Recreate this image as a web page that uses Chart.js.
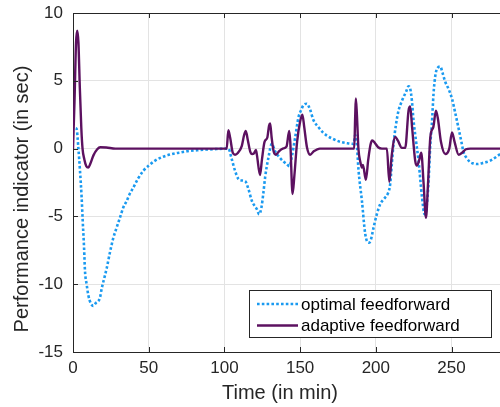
<!DOCTYPE html>
<html>
<head>
<meta charset="utf-8">
<script src="https://cdn.jsdelivr.net/npm/chart.js@4"></script>
<style>
  html, body { margin: 0; padding: 0; background: #fff; }
  #wrap { width: 500px; height: 407px; }
</style>
</head>
<body>
<div id="wrap"><canvas id="perf_chart"></canvas></div>
<script>
// values
const opt_t = [1.8, 2.4, 3.5, 4.6, 5.7, 6.4, 7.3, 7.9, 9, 10.1, 11.7, 13.4, 15, 17.8, 19, 21, 22.3, 24.5, 26.6, 28.9, 31, 33.2, 35.5, 37.2, 39.9, 43, 46.5, 50, 54.2, 59, 64.1, 70, 75.1, 82, 88.4, 95, 102.6,
  104.8, 107, 109.3, 111.5, 113.7, 115.9, 118.1, 121.4, 123, 124.5, 125.8, 126.9, 129.1, 131.3, 133.5, 136.8, 139, 141.2, 143, 144.5, 146.7, 148.9, 150.5, 152.2, 154.4, 156.5, 158.8, 162, 165, 167.7, 171, 176.5, 181, 185.3,
  186.4, 187.3, 188.6, 190.8, 193, 195.2, 196.5, 198.5, 200.5, 202.9, 206.2, 208, 209.5, 210.5, 211.7, 213.2, 215, 216.8, 218.3, 220, 221.6, 222.5, 223.8, 224.9, 226.5, 228.2, 230.5, 232.2, 233.5, 234.8, 236, 237, 238.1, 239.3, 240.3, 242.6, 244, 245.9, 248, 250.3, 252.5, 254.7, 256.5, 258, 260, 262.4, 264.5, 266.8, 271, 275.6, 282.2];
const opt_y = [1.5, 1.45, 0.1, -1.6, -3.6, -5.3, -7.3, -9, -10, -10.8, -11.4, -11.6, -11.4, -11, -10.3, -9.4, -8.8, -7.6, -6.6, -5.8, -5.1, -4.35, -3.85, -3.4, -2.87, -2.2, -1.63, -1.25, -0.89, -0.62, -0.44, -0.3, -0.2, -0.12, -0.07, -0.03, 0,
  -0.76, -1.63, -2.25, -2.35, -2.4, -3.0, -3.85, -4.47, -4.84, -4.3, -3.2, -2.1, -0.64, 0.35, -0.2, -0.7, -0.95, -1.15, -1.3, -0.6, 0.8, 2.3, 2.8, 3.2, 3.31, 2.9, 2.1, 1.6, 1.2, 0.96, 0.75, 0.5, 0.4, 0.35,
  1.0, 0.5, -1.63, -3.85, -6.3, -6.94, -6.8, -5.83, -4.9, -4.1, -3.6, -3.3, -2.6, -1.2, 0.35, 1.7, 2.81, 3.4, 3.8, 4.2, 4.6, 4.5, 3.55, 2.07, 0.6, -0.89, -3.6, -4.84, -4.3, -2.5, 0.35, 1.8, 4.05, 5.4, 5.85, 6.05, 5.6, 4.91, 4.4, 3.68, 2.6, 1.46, 0.5, -0.27, -0.7, -1.01, -1.1, -1.14, -1.05, -0.89, -0.4];

const ada_t = [0, 1, 2, 2.8, 3.6, 4.5, 5.5, 6.3, 7.5, 8.8, 10.1, 11.5, 13.5, 16, 18, 22, 28, 101.5,
  102.6, 103.8, 105.5, 107, 109, 111.5, 113, 114.1, 115.5, 117, 118.3, 119.5, 120.8, 121.5, 123.5, 124.8, 126.5, 128.3, 129.5, 130.2, 131.2, 132.5, 134, 136, 138.5, 141, 142.8, 143.5, 145, 146.2, 148, 150, 151.5, 152.7, 154.5, 156.6, 159, 163, 185.7,
  186.4, 186.8, 187.5, 188.5, 189.8, 190.8, 191.5, 193.4, 195, 196.5, 197.6, 199.5, 201.5, 204, 207.3, 208.9, 210.5, 212.8, 214.5, 217.2, 219.4, 221.6, 222.7, 224, 226, 227.1, 228.5, 230, 231.5, 233.1, 234.5, 236, 238, 239.7, 241, 243, 245.9, 248.5, 250.3, 252, 254.7, 257, 259.5, 262.4, 282];
const ada_y = [0, 3.5, 7.8, 8.7, 7.8, 4.5, 1.5, 0, -0.8, -1.3, -1.4, -1.1, -0.5, -0.05, 0.1, 0.08, 0, 0,
  1.35, 0.8, -0.3, -0.45, -0.3, 0.2, 1.0, 1.3, 0.6, -0.2, -0.4, -0.35, -0.1, -0.5, -1.95, -0.8, 0.5, 0.8, 1.7, 1.85, 0.8, -0.2, -0.45, -0.2, 0, 0.15, 1.3, 0.5, -3.35, -2.0, 0.5, 2.0, 2.5, 1.6, 0.1, -0.45, -0.2, 0, 0,
  2.5, 3.7, 2.5, 0, -1.0, -1.4, -1.2, -2.3, -0.8, 0.3, 0.6, 0.4, 0.1, 0, 0, -2.45, -0.5, 0.85, 0.6, 0.05, 0.05, 2.8, 3.1, 1.5, -0.9, -1.25, -0.9, -0.3, -2.5, -5.1, -2.5, 0.85, 1.6, 2.8, 2.2, 0.5, -0.4, 0, 1.2, 0.5, -0.45, -0.3, -0.05, 0, 0];

const x_ticks = [0, 50, 100, 150, 200, 250];
const y_ticks = [-15, -10, -5, 0, 5, 10];
const series_names = ["optimal feedforward", "adaptive feedforward"];

const axis_col = "#262626";
const font_face = "'Liberation Sans', Arial, sans-serif";

const to_points = (ts, ys) => ts.map((t, i) => ({ x: t, y: ys[i] }));

// box top line, inward ticks, axis titles and the legend box
const frame = {
  id: "frame",
  afterDraw(chart) {
    const { ctx, chartArea: a, scales } = chart;
    ctx.save();
    ctx.strokeStyle = axis_col;
    ctx.lineWidth = 1;
    ctx.beginPath();
    ctx.moveTo(a.left, a.top + 0.5);
    ctx.lineTo(a.right, a.top + 0.5);
    x_ticks.forEach((v) => {
      const px = Math.round(scales.x.getPixelForValue(v)) + 0.5;
      ctx.moveTo(px, a.bottom);
      ctx.lineTo(px, a.bottom - 5);
      ctx.moveTo(px, a.top);
      ctx.lineTo(px, a.top + 5);
    });
    y_ticks.forEach((v) => {
      const py = Math.round(scales.y.getPixelForValue(v)) + 0.5;
      ctx.moveTo(a.left, py);
      ctx.lineTo(a.left + 5, py);
    });
    ctx.stroke();

    ctx.fillStyle = axis_col;
    ctx.font = "20px " + font_face;
    ctx.textAlign = "center";
    ctx.textBaseline = "middle";
    ctx.fillText("Time (in min)", 280, 393);
    ctx.translate(22, 199);
    ctx.rotate(-Math.PI / 2);
    ctx.fillText("Performance indicator (in sec)", 0, 0);
    ctx.restore();

    // legend
    ctx.save();
    ctx.fillStyle = "#fff";
    ctx.fillRect(249.5, 290.5, 242, 47);
    ctx.strokeStyle = axis_col;
    ctx.lineWidth = 1;
    ctx.strokeRect(249.5, 290.5, 242, 47);
    const rows = [304, 325.5];
    chart.data.datasets.forEach((ds, i) => {
      ctx.beginPath();
      ctx.strokeStyle = ds.borderColor;
      ctx.lineWidth = ds.borderWidth;
      ctx.setLineDash(ds.borderDash || []);
      ctx.moveTo(257, rows[i]);
      ctx.lineTo(298, rows[i]);
      ctx.stroke();
      ctx.setLineDash([]);
      ctx.fillStyle = "#000";
      ctx.font = "17px " + font_face;
      ctx.textAlign = "left";
      ctx.textBaseline = "middle";
      ctx.fillText(ds.label, 301, rows[i] + 1);
    });
    ctx.restore();
  },
};

const pc = new Chart(document.getElementById("perf_chart"), {
  type: "line",
  data: {
    datasets: [
      {
        label: series_names[0],
        data: to_points(opt_t, opt_y),
        borderColor: "#1a9af0",
        borderWidth: 2.6,
        borderDash: [2.6, 2.2],
        borderCapStyle: "butt",
        pointRadius: 0,
        cubicInterpolationMode: "monotone",
        order: 2,
      },
      {
        label: series_names[1],
        data: to_points(ada_t, ada_y),
        borderColor: "#5c1160",
        borderWidth: 2.4,
        pointRadius: 0,
        cubicInterpolationMode: "monotone",
        order: 1,
      },
    ],
  },
  options: {
    responsive: true,
    maintainAspectRatio: false,
    animation: false,
    layout: { padding: { top: 13, right: 0, left: 0, bottom: 0 } },
    plugins: {
      legend: { display: false },
      tooltip: { enabled: false },
    },
    scales: {
      x: {
        type: "linear",
        min: 0,
        max: 282,
        afterFit: (s) => { s.height = 55; s.paddingLeft = 0; s.paddingRight = 0; },
        afterBuildTicks: (s) => { s.ticks = x_ticks.map((v) => ({ value: v })); },
        ticks: { color: axis_col, font: { size: 17, family: font_face }, padding: 6, maxRotation: 0 },
        grid: { color: "#e3e3e3", drawTicks: false },
        border: { color: axis_col, width: 1 },
      },
      y: {
        min: -15,
        max: 10,
        afterFit: (s) => { s.width = 73; s.paddingTop = 0; s.paddingBottom = 0; },
        afterBuildTicks: (s) => { s.ticks = y_ticks.map((v) => ({ value: v })); },
        ticks: { color: axis_col, font: { size: 17, family: font_face }, padding: 10 },
        grid: { color: "#e3e3e3", drawTicks: false },
        border: { color: axis_col, width: 1 },
      },
    },
  },
  plugins: [frame],
});
</script>
</body>
</html>
